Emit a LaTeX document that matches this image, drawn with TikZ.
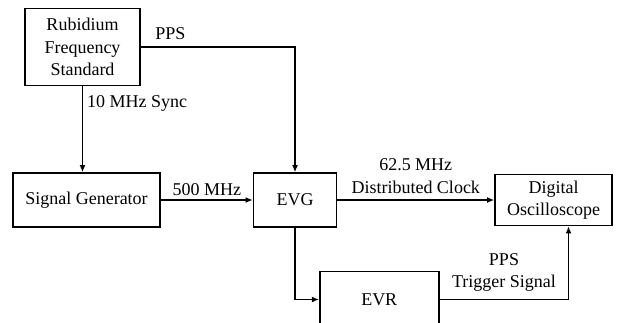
\documentclass[tikz,border=0pt]{standalone}
\usepackage{fontspec}
\setmainfont{Liberation Serif}
\usetikzlibrary{arrows.meta, positioning}
\tikzset{
  txt/.style={font=\fontsize{9}{11.3}\selectfont},
  blk/.style={
    rectangle, draw, line width=0.75pt, txt,
    align=center, inner sep=2pt
  },
  lbl/.style={txt, align=center, inner sep=2pt},
  sigline/.style={
    draw, -{Latex[length=3.6pt, width=3pt]}, line width=0.7pt
  }
}
\begin{document}
\begin{tikzpicture}
  \useasboundingbox (0,0) rectangle (310.5pt,-161pt);
  \node[blk, minimum width=73.5pt, minimum height=27pt] (sg) at (43.25pt,-100pt) {Signal Generator};
  \node[blk, above=43pt of sg, xshift=-2pt, minimum width=57.5pt, minimum height=38.5pt] (rb) {Rubidium\\Frequency\\Standard};
  \node[blk, right=46pt of sg, minimum width=41.5pt, minimum height=27pt] (evg) {EVG};
  \node[blk, right=78.5pt of evg, minimum width=58.5pt, minimum height=25.5pt] (osc) {Digital\\Oscilloscope};
  \node[blk, below right=21.5pt and 12pt of evg.south, minimum width=59.5pt, minimum height=28pt] (evr) {EVR};

  \draw[sigline] (rb) -- (rb |- sg.north) node[lbl, pos=0, anchor=north west, yshift=-2.5pt] {10 MHz Sync};
  \draw[sigline] (rb.east) -| (evg.north) node[lbl, pos=0, anchor=south west, xshift=5pt, yshift=1.5pt] {PPS};
  \draw[sigline] (sg) -- (evg) node[lbl, midway, above] {500 MHz};
  \draw[sigline] (evg) -- (osc) node[lbl, midway, above, yshift=1pt] {62.5 MHz\\Distributed Clock};
  \draw[sigline] (evg) |- (evr);
  \draw[sigline] (evr) -| ([xshift=7.5pt]osc.south) node[lbl, pos=0.25, above, yshift=1.5pt] {PPS\\Trigger Signal};
\end{tikzpicture}
\end{document}
